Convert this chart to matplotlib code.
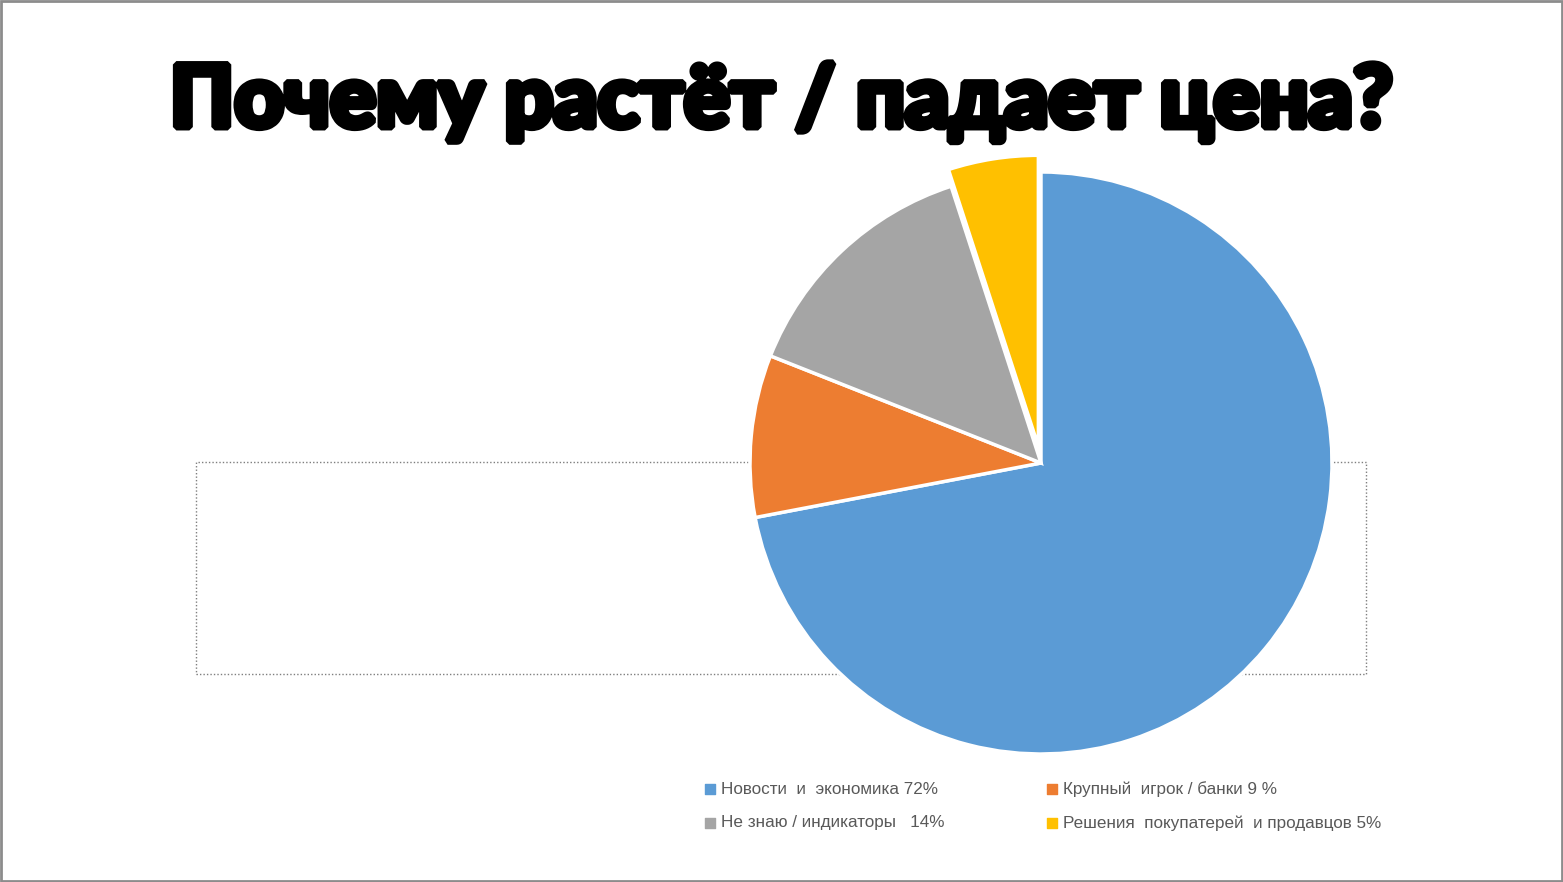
import matplotlib
matplotlib.use('Agg')
import matplotlib.pyplot as plt
import matplotlib.patheffects as pe
from matplotlib.patches import Rectangle

# data
labels = ['Новости  и  экономика 72%', 'Крупный  игрок / банки 9 %',
          'Не знаю / индикаторы   14%', 'Решения  покупатерей  и продавцов 5%']
values = [72, 9, 14, 5]
colors = ['#5b9bd5', '#ed7d31', '#a5a5a5', '#ffc000']
explode_frac = [0, 0, 0, 0.058]
title = 'Почему растёт / падает цена?'

W, H = 1563, 882
R = 291
fig = plt.figure(figsize=(W / 100, H / 100), dpi=100)
ax = fig.add_axes([0, 0, 1, 1])

# dotted placeholder box behind the pie
ax.add_patch(Rectangle((196, H - 674), 1170, 212, fill=False, linestyle=(0, (1, 1.5)),
                       edgecolor='#7f7f7f', linewidth=1, zorder=1))

# explode in pie is in data units, so scale by radius
ax.pie(values, colors=colors, explode=[e * R for e in explode_frac], startangle=90,
       counterclock=False, center=(1041, H - 463), radius=R,
       wedgeprops=dict(edgecolor='white', linewidth=2.5, zorder=2))

ax.set_xlim(0, W)
ax.set_ylim(0, H)
ax.set_aspect('auto')
ax.axis('off')

# title (extra stroke to get the heavy look)
fig.text(0.5, 1 - 127 / H, title, ha='center', va='baseline',
         fontsize=62, fontweight='black', family=['Lato', 'DejaVu Sans'], color='black',
         path_effects=[pe.withStroke(linewidth=5, foreground='black', joinstyle='bevel')])

# legend, laid out like the office chart
leg_x = [710, 1052, 710, 1052]
leg_y = [789, 789, 823, 823]
for lab, col, x, y in zip(labels, colors, leg_x, leg_y):
    ax.scatter([x], [H - y], marker='s', s=50, color=col, zorder=3)
    ax.text(x + 11, H - y, lab, ha='left', va='center', fontsize=12.3,
            family=['Liberation Sans', 'DejaVu Sans'], color='#595959')

# slide frame
ax.add_patch(Rectangle((0.5, 1.5), W - 2, H - 2, fill=False, edgecolor='#8c8c8c',
                       linewidth=2, zorder=5))

fig.savefig('out.png', dpi=100, facecolor='white')
